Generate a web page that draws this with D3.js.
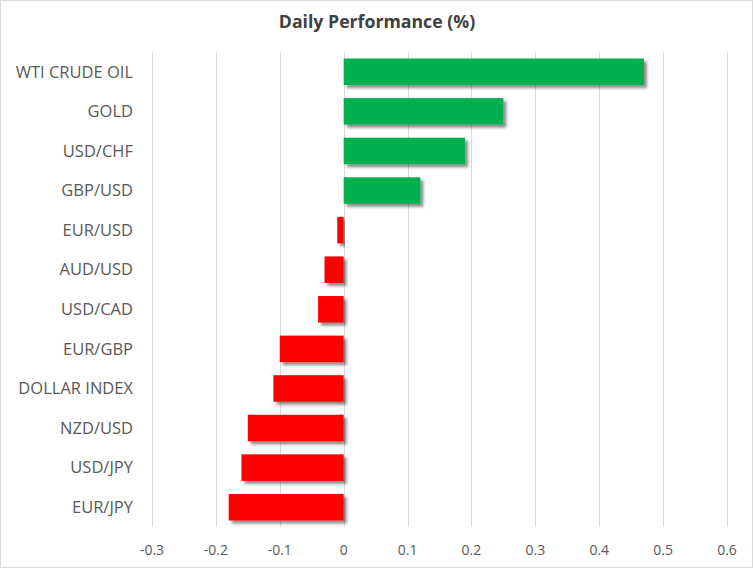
<!DOCTYPE html>
<html>
<head>
<meta charset="utf-8">
<script src="https://cdn.jsdelivr.net/npm/d3@7"></script>
<style>
  body { margin: 0; background: #fff; }
  text { font-family: "Open Sans", sans-serif; }
</style>
</head>
<body>
<div id="chart"></div>
<script>
// Daten
const categories = ["WTI CRUDE OIL", "GOLD", "USD/CHF", "GBP/USD", "EUR/USD", "AUD/USD",
  "USD/CAD", "EUR/GBP", "DOLLAR INDEX", "NZD/USD", "USD/JPY", "EUR/JPY"];
const values = [0.47, 0.25, 0.19, 0.12, -0.01, -0.03, -0.04, -0.10, -0.11, -0.15, -0.16, -0.18];
const xTicks = [-0.3, -0.2, -0.1, 0, 0.1, 0.2, 0.3, 0.4, 0.5, 0.6];

const width = 753, height = 568;
const plot = { left: 152, right: 727, top: 52, bottom: 527 };

const svg = d3.select("#chart").append("svg")
  .attr("width", width)
  .attr("height", height);

// Schatten wie in Excel
const defs = svg.append("defs");
defs.append("filter")
  .attr("id", "shadow")
  .attr("x", "-10%").attr("y", "-30%")
  .attr("width", "130%").attr("height", "170%")
  .append("feDropShadow")
  .attr("dx", 3).attr("dy", 3)
  .attr("stdDeviation", 1.8)
  .attr("flood-color", "#000")
  .attr("flood-opacity", 0.45);

// Rahmen
svg.append("rect")
  .attr("x", 0.5).attr("y", 0.5)
  .attr("width", width - 1).attr("height", height - 1)
  .attr("fill", "#fff")
  .attr("stroke", "#d9d9d9");

const x = d3.scaleLinear()
  .domain([-0.3, 0.6])
  .range([plot.left, plot.right]);

const y = d3.scaleBand()
  .domain(categories)
  .range([plot.top, plot.bottom])
  .paddingInner(0.33)
  .paddingOuter(0.165);

// Gitterlinien
svg.append("g")
  .selectAll("line")
  .data(xTicks)
  .join("line")
  .attr("x1", d => Math.round(x(d)) + 0.5)
  .attr("x2", d => Math.round(x(d)) + 0.5)
  .attr("y1", plot.top)
  .attr("y2", plot.bottom)
  .attr("stroke", "#d9d9d9")
  .attr("stroke-width", 1);

// Balken
svg.append("g")
  .selectAll("rect")
  .data(categories.map((c, i) => ({ c, v: values[i] })))
  .join("rect")
  .attr("x", d => x(Math.min(0, d.v)))
  .attr("y", d => y(d.c))
  .attr("width", d => Math.abs(x(d.v) - x(0)))
  .attr("height", y.bandwidth())
  .attr("fill", d => d.v >= 0 ? "#00b050" : "#ff0000")
  .attr("filter", "url(#shadow)");

// x-Achse Beschriftung
svg.append("g")
  .selectAll("text")
  .data(xTicks)
  .join("text")
  .attr("x", d => x(d))
  .attr("y", 555)
  .attr("text-anchor", "middle")
  .attr("fill", "#595959")
  .style("font-size", "14px")
  .text(d => String(+d.toFixed(1)));

// Kategorien
svg.append("g")
  .selectAll("text")
  .data(categories)
  .join("text")
  .attr("x", 133)
  .attr("y", d => y(d) + y.bandwidth() / 2)
  .attr("dy", "0.35em")
  .attr("text-anchor", "end")
  .attr("fill", "#595959")
  .style("font-size", "16.5px")
  .text(d => d);

// Titel
svg.append("text")
  .attr("x", 377)
  .attr("y", 28)
  .attr("text-anchor", "middle")
  .attr("fill", "#404040")
  .style("font-size", "17.7px")
  .style("font-weight", "bold")
  .text("Daily Performance (%)");
</script>
</body>
</html>
